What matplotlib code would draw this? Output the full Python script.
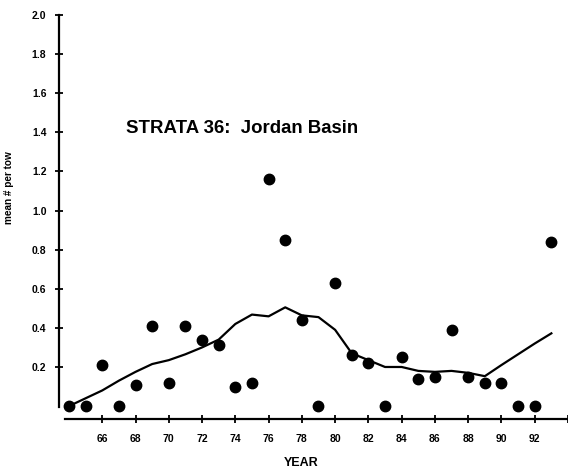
import matplotlib
matplotlib.use("Agg")
import matplotlib.pyplot as plt

years = [64, 65, 66, 67, 68, 69, 70, 71, 72, 73, 74, 75, 76, 77, 78, 79,
         80, 81, 82, 83, 84, 85, 86, 87, 88, 89, 90, 91, 92, 93]
mean_per_tow = [0.0, 0.0, 0.21, 0.0, 0.11, 0.41, 0.12, 0.41, 0.34, 0.31,
                0.10, 0.12, 1.16, 0.85, 0.44, 0.0, 0.63, 0.26, 0.22, 0.0,
                0.25, 0.14, 0.15, 0.39, 0.15, 0.12, 0.12, 0.0, 0.0, 0.84]
smooth = [0.0, 0.04, 0.08, 0.13, 0.175, 0.215, 0.235, 0.265, 0.30, 0.34,
          0.42, 0.468, 0.459, 0.505, 0.464, 0.455, 0.39, 0.27, 0.235, 0.20,
          0.20, 0.18, 0.175, 0.18, 0.17, 0.153, 0.21, 0.265, 0.32, 0.372]
ytick_vals = [0.2, 0.4, 0.6, 0.8, 1.0, 1.2, 1.4, 1.6, 1.8, 2.0]
xtick_vals = [66, 68, 70, 72, 74, 76, 78, 80, 82, 84, 86, 88, 90, 92, 94]
xtick_labels = ["66", "68", "70", "72", "74", "76", "78", "80", "82", "84",
                "86", "88", "90", "92", ""]
title = "STRATA 36:  Jordan Basin"

plt.rcParams['font.family'] = ['Liberation Sans', 'DejaVu Sans']

fig = plt.figure(figsize=(5.68, 4.70), dpi=100)
ax = fig.add_axes([59 / 568, 51 / 470, 509 / 568, 404 / 470])
ax.set_xlim(63.4, 93.97)
ax.set_ylim(-0.066, 2.0)

ax.plot(years, smooth, color='black', lw=1.6, zorder=2)
ax.plot(years, mean_per_tow, 'o', color='black', ms=7.5, zorder=3)

for s in ['top', 'right']:
    ax.spines[s].set_visible(False)
ax.spines['left'].set_bounds(-0.005, 2.0)
ax.spines['bottom'].set_bounds(63.75, 94.5)
ax.spines['left'].set_linewidth(1.6)
ax.spines['bottom'].set_linewidth(1.6)

ax.set_yticks(ytick_vals)
ax.set_yticklabels([f"{v:.1f}" for v in ytick_vals], fontsize=7.5, fontweight='bold')
ax.set_xticks(xtick_vals)
ax.set_xticklabels(xtick_labels, fontsize=7.5, fontweight='bold')
ax.tick_params(axis='both', direction='inout', length=6, width=1.3)
ax.tick_params(axis='y', pad=6)
ax.tick_params(axis='x', pad=8)

fig.text(301 / 568, 1 - 462.5 / 470, "YEAR", ha='center', va='center',
         fontsize=9, fontweight='bold')
fig.text(9.5 / 568, 1 - 188 / 470, "mean # per tow", ha='center', va='center',
         rotation=90, fontsize=7.2, fontweight='bold')
fig.text(126 / 568, 1 - 133 / 470, title, ha='left', va='baseline',
         fontsize=13.4, fontweight='bold')

fig.savefig("out.png", dpi=100)
